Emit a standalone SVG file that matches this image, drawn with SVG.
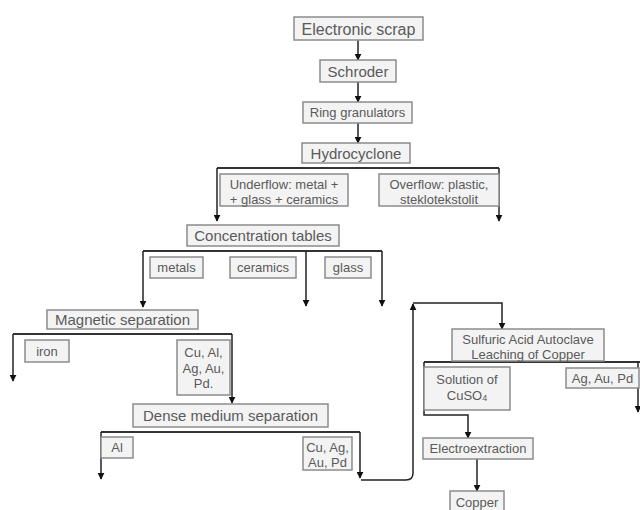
<svg xmlns="http://www.w3.org/2000/svg" width="640" height="510" viewBox="0 0 640 510">
<defs>
<style>
.box{fill:#f3f3f3;stroke:#8c8c8c;stroke-width:1.5}
.t{font-family:"Liberation Sans",Arial,sans-serif;fill:#5a5a5a;text-anchor:middle;dominant-baseline:central}
.s13{font-size:13px}
.s15{font-size:15px}
.s16{font-size:16px}
.ln{fill:none;stroke:#222;stroke-width:1.5}
.bar{fill:none;stroke:#333;stroke-width:2.2}
</style>
<marker id="ah" viewBox="0 0 10 10" refX="9" refY="5" markerWidth="7" markerHeight="7" markerUnits="userSpaceOnUse" orient="auto">
<path d="M0,0 L10,5 L0,10 Z" fill="#111"/>
</marker>
</defs>
<rect width="640" height="510" fill="#fff"/>

<g id="connectors">
<line class="ln" x1="358" y1="40" x2="358" y2="60" marker-end="url(#ah)"/>
<line class="ln" x1="358" y1="82" x2="358" y2="102" marker-end="url(#ah)"/>
<line class="ln" x1="358" y1="123" x2="358" y2="143" marker-end="url(#ah)"/>
<line class="bar" x1="217" y1="168" x2="499" y2="168"/>
<line class="ln" x1="217" y1="168" x2="217" y2="221" marker-end="url(#ah)"/>
<line class="ln" x1="499" y1="168" x2="499" y2="221" marker-end="url(#ah)"/>
<line class="bar" x1="143" y1="251" x2="382" y2="251"/>
<line class="ln" x1="143" y1="251" x2="143" y2="307" marker-end="url(#ah)"/>
<line class="ln" x1="306" y1="251" x2="306" y2="306" marker-end="url(#ah)"/>
<line class="ln" x1="382" y1="251" x2="382" y2="306" marker-end="url(#ah)"/>
<line class="bar" x1="13" y1="334" x2="232" y2="334"/>
<line class="ln" x1="13" y1="334" x2="13" y2="381" marker-end="url(#ah)"/>
<line class="ln" x1="232" y1="334" x2="232" y2="403" marker-end="url(#ah)"/>
<line class="bar" x1="101" y1="432" x2="360" y2="432"/>
<line class="ln" x1="101" y1="432" x2="101" y2="479" marker-end="url(#ah)"/>
<line class="ln" x1="360" y1="432" x2="360" y2="478" marker-end="url(#ah)"/>
<path class="ln" d="M361,480 L406,480 Q413,480 413,473 L413,304" marker-end="url(#ah)"/>
<path class="ln" d="M413,303 L502,303 L502,329" marker-end="url(#ah)"/>
<line class="bar" x1="424" y1="362" x2="640" y2="362"/>
<path class="ln" d="M424,362 L424,415 L468,415 L468,438" marker-end="url(#ah)"/>
<line class="ln" x1="638" y1="362" x2="638" y2="412" marker-end="url(#ah)"/>
<line class="ln" x1="477" y1="459" x2="477" y2="491" marker-end="url(#ah)"/>
</g>

<g id="electronic-scrap"><rect class="box" x="294" y="17" width="129" height="23"/><text class="t s16" x="358.5" y="29">Electronic scrap</text></g>
<g id="schroder"><rect class="box" x="320" y="60" width="76" height="22"/><text class="t s15" x="358" y="71">Schroder</text></g>
<g id="ring-granulators"><rect class="box" x="303" y="102" width="109" height="21"/><text class="t s13" x="357.5" y="112.5">Ring granulators</text></g>
<g id="hydrocyclone"><rect class="box" x="302" y="143" width="108" height="20"/><text class="t s15" x="356" y="153">Hydrocyclone</text></g>
<g id="underflow"><rect class="box" x="220" y="174" width="128" height="32"/><text class="t s13" x="284" y="184">Underflow: metal +</text><text class="t s13" x="284" y="199">+ glass + ceramics</text></g>
<g id="overflow"><rect class="box" x="379" y="174" width="120" height="32"/><text class="t s13" x="439" y="184">Overflow: plastic,</text><text class="t s13" x="439" y="199">steklotekstolit</text></g>
<g id="concentration-tables"><rect class="box" x="187" y="225" width="152" height="21"/><text class="t s15" x="263" y="235.5">Concentration tables</text></g>
<g id="metals"><rect class="box" x="150" y="257" width="53" height="21"/><text class="t s13" x="176.5" y="267.5">metals</text></g>
<g id="ceramics"><rect class="box" x="230" y="257" width="66" height="21"/><text class="t s13" x="263" y="267.5">ceramics</text></g>
<g id="glass"><rect class="box" x="325" y="257" width="46" height="21"/><text class="t s13" x="348" y="267.5">glass</text></g>
<g id="magnetic-separation"><rect class="box" x="47" y="310" width="151" height="19"/><text class="t s15" x="122.5" y="319.5">Magnetic separation</text></g>
<g id="iron"><rect class="box" x="25" y="340" width="44" height="22"/><text class="t s13" x="47" y="351">iron</text></g>
<g id="cu-al-ag-au-pd"><rect class="box" x="177" y="340" width="53" height="55"/><text class="t s13" x="203.5" y="352">Cu, Al,</text><text class="t s13" x="203.5" y="368">Ag, Au,</text><text class="t s13" x="203.5" y="383">Pd.</text></g>
<g id="dense-medium-separation"><rect class="box" x="133" y="404" width="195" height="23"/><text class="t s15" x="230.5" y="415.5">Dense medium separation</text></g>
<g id="al"><rect class="box" x="101" y="437" width="32" height="21"/><text class="t s13" x="117" y="447.5">Al</text></g>
<g id="cu-ag-au-pd"><rect class="box" x="303" y="437" width="49" height="33"/><text class="t s13" x="327.5" y="447">Cu, Ag,</text><text class="t s13" x="327.5" y="462">Au, Pd</text></g>
<g id="sulfuric-acid"><rect class="box" x="452" y="329" width="152" height="32"/><text class="t s13" x="528" y="339">Sulfuric Acid Autoclave</text><text class="t s13" x="528" y="354">Leaching of Copper</text></g>
<g id="solution-cuso4"><rect class="box" x="424" y="367" width="86" height="43"/><text class="t s13" x="467" y="379">Solution of</text><text class="t s13" x="467" y="395">CuSO<tspan font-size="9" dy="3">4</tspan></text></g>
<g id="ag-au-pd"><rect class="box" x="566" y="368" width="73" height="20"/><text class="t s13" x="602.5" y="378">Ag, Au, Pd</text></g>
<g id="electroextraction"><rect class="box" x="423" y="438" width="110" height="21"/><text class="t s13" x="478" y="448.5">Electroextraction</text></g>
<g id="copper"><rect class="box" x="450" y="491" width="54" height="22"/><text class="t s13" x="477" y="502">Copper</text></g>
</svg>
